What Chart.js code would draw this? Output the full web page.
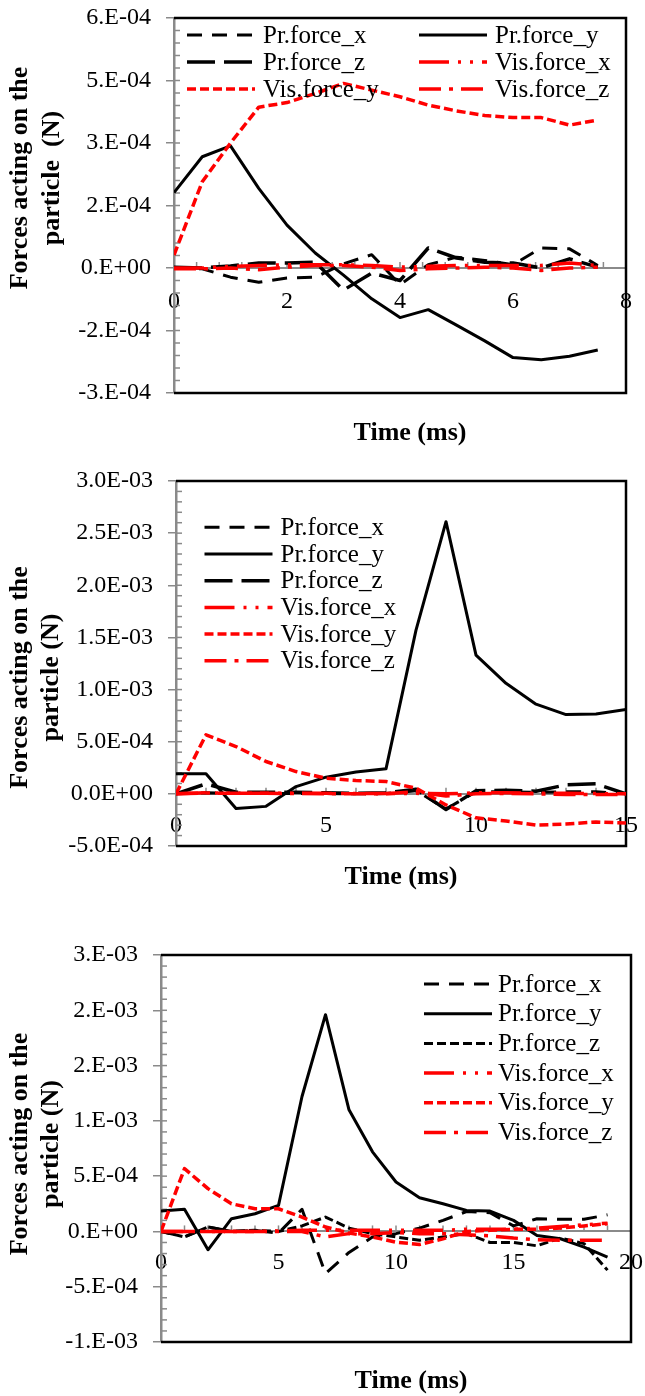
<!DOCTYPE html>
<html><head><meta charset="utf-8">
<script src="https://cdn.jsdelivr.net/npm/chart.js@4.4.1/dist/chart.umd.min.js"></script>
<style>
html,body{margin:0;padding:0;background:#fff;width:645px;height:1396px;overflow:hidden}
.box{position:absolute;left:0;width:645px}
canvas{display:block}
</style></head><body>
<div class="box" style="top:0;height:460px"><canvas id="c1"></canvas></div>
<div class="box" style="top:460px;height:470px"><canvas id="c2"></canvas></div>
<div class="box" style="top:930px;height:466px"><canvas id="c3"></canvas></div>
<script>
const SERIES = ['Pr.force_x','Pr.force_y','Pr.force_z','Vis.force_x','Vis.force_y','Vis.force_z'];

// ---------- Chart 1 ----------
const T1 = [0,0.5,1,1.5,2,2.5,3,3.5,4,4.5,5,5.5,6,6.5,7,7.5];
const PRX1 = [0,-2e-6,-2.2e-5,-3.4e-5,-2.4e-5,-2.2e-5,1e-5,3.2e-5,-4e-5,8e-6,2.6e-5,1.8e-5,8e-6,4.8e-5,4.6e-5,6e-6];
const PRY1 = [1.81e-4,2.67e-4,2.93e-4,1.91e-4,1.03e-4,3.6e-5,-1.7e-5,-7.4e-5,-1.19e-4,-1.0e-4,-1.37e-4,-1.75e-4,-2.15e-4,-2.2e-4,-2.12e-4,-1.97e-4];
const PRZ1 = [2e-6,0,5e-6,1.2e-5,1.2e-5,1.4e-5,-5.3e-5,-1.2e-5,-3e-5,4.8e-5,2.4e-5,1.4e-5,1.2e-5,0,2.2e-5,2e-6];
const VISX1 = [0,0,4e-6,6e-6,8e-6,8e-6,8e-6,6e-6,2e-6,4e-6,6e-6,6e-6,6e-6,6e-6,1.2e-5,6e-6];
const VISY1 = [3.1e-5,2.07e-4,3.0e-4,3.86e-4,3.97e-4,4.19e-4,4.43e-4,4.27e-4,4.11e-4,3.91e-4,3.77e-4,3.66e-4,3.61e-4,3.61e-4,3.43e-4,3.55e-4];
const VISZ1 = [-2e-6,-2e-6,0,-4e-6,2e-6,6e-6,6e-6,2e-6,-6e-6,-2e-6,0,2e-6,0,-6e-6,0,2e-6];
const X1_TICKS = [0,2,4,6,8];
const Y1_TICKS = [-3e-4,-1.5e-4,0,1.5e-4,3e-4,4.5e-4,6e-4];
const Y1_LABELS = ['-3.E-04','-2.E-04','0.E+00','2.E-04','3.E-04','5.E-04','6.E-04'];

// ---------- Chart 2 ----------
const T2 = [0,1,2,3,4,5,6,7,8,9,10,11,12,13,14,15];
const PRX2 = [0,1e-5,5e-6,3e-6,3e-6,3e-6,0,3e-6,3e-5,-1.45e-4,2e-5,2e-5,1.5e-5,2e-5,2e-5,0];
const PRY2 = [1.92e-4,1.92e-4,-1.4e-4,-1.2e-4,7e-5,1.6e-4,2.1e-4,2.4e-4,1.57e-3,2.61e-3,1.33e-3,1.06e-3,8.6e-4,7.6e-4,7.65e-4,8.1e-4];
const PRZ2 = [0,9.6e-5,1.5e-5,1.5e-5,1.5e-5,1e-5,5e-6,1e-5,4.5e-5,-1.5e-4,3e-5,3.5e-5,2.5e-5,8.6e-5,9.6e-5,0];
const VISX2 = [0,1e-5,5e-6,5e-6,5e-6,5e-6,3e-6,3e-6,5e-6,0,1e-5,1e-5,5e-6,5e-6,3e-6,0];
const VISY2 = [0,5.66e-4,4.54e-4,3.1e-4,2.14e-4,1.5e-4,1.28e-4,1.18e-4,5.4e-5,-1.06e-4,-2.3e-4,-2.6e-4,-3.0e-4,-2.9e-4,-2.7e-4,-2.8e-4];
const VISZ2 = [0,8e-6,5e-6,5e-6,3e-6,0,0,0,2e-5,-2e-5,0,5e-6,0,-5e-6,-5e-6,-5e-6];
const X2_TICKS = [0,5,10,15];
const Y2_TICKS = [-5e-4,0,5e-4,1e-3,1.5e-3,2e-3,2.5e-3,3e-3];
const Y2_LABELS = ['-5.0E-04','0.0E+00','5.0E-04','1.0E-03','1.5E-03','2.0E-03','2.5E-03','3.0E-03'];

// ---------- Chart 3 ----------
const T3 = [0,1,2,3,4,5,6,7,8,9,10,11,12,13,14,15,16,17,18,19];
const PRX3 = [0,-5e-5,4e-5,0,1e-5,-1.5e-5,2e-4,-3.8e-4,-1.9e-4,-5e-5,-2e-5,3e-5,1e-4,1.8e-4,1.7e-4,5e-5,1.15e-4,1.1e-4,1.1e-4,1.5e-4];
const PRY3 = [1.84e-4,2.0e-4,-1.66e-4,1.15e-4,1.6e-4,2.36e-4,1.22e-3,1.96e-3,1.1e-3,7.2e-4,4.47e-4,3.05e-4,2.5e-4,1.9e-4,1.84e-4,1.0e-4,-3.6e-5,-6.6e-5,-1.42e-4,-2.33e-4];
const PRZ3 = [0,-5e-5,4e-5,0,1e-5,0,5e-5,1.3e-4,3e-5,-2e-5,-5e-5,-8e-5,-5e-5,-2e-5,-1e-4,-1e-4,-1.3e-4,-6e-5,-1.1e-4,-3.5e-4];
const VISX3 = [0,0,0,0,0,5e-6,1e-5,1e-5,1e-5,1e-5,1e-5,1e-5,1e-5,2e-5,2e-5,2e-5,3e-5,4.5e-5,6e-5,7.5e-5];
const VISY3 = [0,5.68e-4,3.87e-4,2.5e-4,2.05e-4,2.05e-4,1.3e-4,4e-5,-1.5e-5,-5e-5,-9.7e-5,-1.18e-4,-6.7e-5,0,1e-5,2e-5,2e-5,3e-5,5e-5,7e-5];
const VISZ3 = [0,0,0,0,0,0,0,-5e-5,-2e-5,-2e-5,-1e-5,-2e-5,-2e-5,-3e-5,-4e-5,-6e-5,-7.5e-5,-8e-5,-8e-5,-8e-5];
const X3_TICKS = [0,5,10,15,20];
const Y3_TICKS = [-1e-3,-5e-4,0,5e-4,1e-3,1.5e-3,2e-3,2.5e-3];
const Y3_LABELS = ['-1.E-03','-5.E-04','0.E+00','5.E-04','1.E-03','2.E-03','2.E-03','3.E-03'];

const GRAY = '#8a8a8a';
const FONT = '"Liberation Serif", "Times New Roman", serif';
Chart.defaults.font.family = FONT;

function lineStyles(prZShort) {
  return [
    {c:'#000', d:[15,10], w:3},
    {c:'#000', d:[], w:3},
    prZShort ? {c:'#000', d:[9,4], w:3} : {c:'#000', d:[28,9], w:3.5},
    {c:'#ff0000', d:[30,9,3,9,3,9], w:3.5},
    {c:'#ff0000', d:[9,4], w:3.5},
    {c:'#ff0000', d:[22,8,4,8], w:3.5}
  ];
}

const deco = {
  id: 'deco',
  beforeDatasetsDraw(chart, args, o) {
    const ctx = chart.ctx, ys = chart.scales.y, xs = chart.scales.x, a = chart.chartArea;
    ctx.save();
    ctx.strokeStyle = GRAY; ctx.lineWidth = 1.5;
    const ny = Math.round((ys.max - ys.min) / o.yMinor);
    for (let i = 0; i <= ny; i++) {
      const p = ys.getPixelForValue(ys.min + i * o.yMinor);
      ctx.beginPath(); ctx.moveTo(a.left, p); ctx.lineTo(a.left + 6, p); ctx.stroke();
    }
    const y0 = ys.getPixelForValue(0);
    const nx = Math.round((xs.max - xs.min) / o.xMinor);
    for (let i = 0; i <= nx; i++) {
      const p = xs.getPixelForValue(xs.min + i * o.xMinor);
      ctx.beginPath(); ctx.moveTo(p, y0 - 6); ctx.lineTo(p, y0); ctx.stroke();
    }
    ctx.strokeStyle = '#000'; ctx.lineWidth = 2.5;
    ctx.beginPath();
    ctx.moveTo(a.left, a.top); ctx.lineTo(a.right, a.top); ctx.lineTo(a.right, a.bottom); ctx.lineTo(a.left, a.bottom);
    ctx.stroke();
    ctx.restore();
  },
  afterDraw(chart, args, o) {
    const ctx = chart.ctx;
    ctx.save();
    const ds = chart.data.datasets;
    ctx.font = '25px ' + FONT;
    ctx.textBaseline = 'middle';
    ctx.textAlign = 'left';
    o.legend.forEach((it) => {
      const d = ds[it.i];
      ctx.setLineDash(d.borderDash || []);
      ctx.strokeStyle = d.borderColor; ctx.lineWidth = d.borderWidth; ctx.lineCap = 'butt';
      ctx.beginPath(); ctx.moveTo(it.x, it.y); ctx.lineTo(it.x + o.sampleW, it.y); ctx.stroke();
      ctx.setLineDash([]);
      ctx.fillStyle = '#000';
      ctx.fillText(d.label, it.x + o.sampleW + o.gap, it.y + 1);
    });
    ctx.font = 'bold 26px ' + FONT;
    ctx.fillStyle = '#000';
    ctx.textAlign = 'center';
    ctx.textBaseline = 'middle';
    ctx.fillText(o.xTitle.text, o.xTitle.x, o.xTitle.y);
    o.yTitle.lines.forEach((t, k) => {
      ctx.save();
      ctx.translate(o.yTitle.x[k], o.yTitle.y);
      ctx.rotate(-Math.PI / 2);
      ctx.fillText(t, 0, 0);
      ctx.restore();
    });
    ctx.restore();
  }
};

function makeChart(id, cfg) {
  const st = lineStyles(cfg.prZShort);
  const datasets = cfg.series.map((vals, i) => ({
    label: SERIES[i],
    data: cfg.t.map((t, k) => ({x: t, y: vals[k]})),
    borderColor: st[i].c,
    borderDash: st[i].d,
    borderWidth: st[i].w,
    borderCapStyle: 'butt',
    borderJoinStyle: 'round',
    pointRadius: 0,
    tension: 0,
    fill: false,
    order: 5 - i
  }));
  return new Chart(document.getElementById(id), {
    type: 'line',
    data: {datasets},
    plugins: [deco],
    options: {
      responsive: true,
      maintainAspectRatio: false,
      devicePixelRatio: 1,
      animation: false,
      events: [],
      layout: {padding: cfg.padding},
      plugins: {
        legend: {display: false},
        tooltip: {enabled: false},
        deco: cfg.deco
      },
      scales: {
        x: {
          type: 'linear', position: {y: 0}, min: cfg.xMin, max: cfg.xMax,
          afterBuildTicks: s => { s.ticks = cfg.xTicks.map(v => ({value: v})); },
          afterFit: s => { s.paddingLeft = 0; s.paddingRight = 0; },
          ticks: {font: {size: 24}, color: '#000', padding: cfg.xPad, maxRotation: 0, autoSkip: false,
                  callback: v => String(v)},
          grid: {drawOnChartArea: false, drawTicks: false},
          border: {color: GRAY, width: 2}
        },
        y: {
          type: 'linear', min: cfg.yMin, max: cfg.yMax,
          afterBuildTicks: s => { s.ticks = cfg.yTicks.map(v => ({value: v})); },
          afterFit: s => { s.width = cfg.yWidth; s.paddingTop = 0; s.paddingBottom = 0; },
          ticks: {font: {size: 24}, color: '#000', padding: 15, autoSkip: false,
                  callback: (v, i) => cfg.yLabels[i]},
          grid: {drawOnChartArea: false, drawTicks: true, tickLength: 8, color: GRAY, lineWidth: 1.5},
          border: {color: GRAY, width: 2.5}
        }
      }
    }
  });
}

makeChart('c1', {
  t: T1, series: [PRX1, PRY1, PRZ1, VISX1, VISY1, VISZ1], prZShort: false,
  xMin: 0, xMax: 8, xTicks: X1_TICKS, xPad: 19,
  yMin: -3e-4, yMax: 6e-4, yTicks: Y1_TICKS, yLabels: Y1_LABELS,
  yWidth: 174, padding: {top: 18, right: 19, bottom: 67, left: 0},
  deco: {
    yMinor: 3e-5, xMinor: 0.4, sampleW: 68, gap: 8,
    legend: [
      {i: 0, x: 187, y: 35}, {i: 1, x: 419, y: 35},
      {i: 2, x: 187, y: 62}, {i: 3, x: 419, y: 62},
      {i: 4, x: 187, y: 89}, {i: 5, x: 419, y: 89}
    ],
    xTitle: {text: 'Time (ms)', x: 410, y: 433},
    yTitle: {lines: ['Forces acting on the', 'particle  (N)'], x: [20, 52.7], y: 178}
  }
});

makeChart('c2', {
  t: T2, series: [PRX2, PRY2, PRZ2, VISX2, VISY2, VISZ2], prZShort: false,
  xMin: 0, xMax: 15, xTicks: X2_TICKS, xPad: 17,
  yMin: -5e-4, yMax: 3e-3, yTicks: Y2_TICKS, yLabels: Y2_LABELS,
  yWidth: 176, padding: {top: 21, right: 19, bottom: 84, left: 0},
  deco: {
    yMinor: 1e-4, xMinor: 1, sampleW: 68, gap: 8,
    legend: [0,1,2,3,4,5].map(i => ({i, x: 204.5, y: 67.3 + i * 26.7})),
    xTitle: {text: 'Time (ms)', x: 401, y: 417},
    yTitle: {lines: ['Forces acting on the', 'particle (N)'], x: [19.8, 51.4], y: 217.5}
  }
});

makeChart('c3', {
  t: T3, series: [PRX3, PRY3, PRZ3, VISX3, VISY3, VISZ3], prZShort: true,
  xMin: 0, xMax: 20, xTicks: X3_TICKS, xPad: 17,
  yMin: -1e-3, yMax: 2.5e-3, yTicks: Y3_TICKS, yLabels: Y3_LABELS,
  yWidth: 161, padding: {top: 25, right: 14, bottom: 54, left: 0},
  deco: {
    yMinor: 1e-4, xMinor: 1, sampleW: 68, gap: 6,
    legend: [0,1,2,3,4,5].map(i => ({i, x: 424, y: 54 + i * 29.7})),
    xTitle: {text: 'Time (ms)', x: 411, y: 451},
    yTitle: {lines: ['Forces acting on the', 'particle (N)'], x: [19.8, 51.4], y: 214}
  }
});
</script>
</body></html>
